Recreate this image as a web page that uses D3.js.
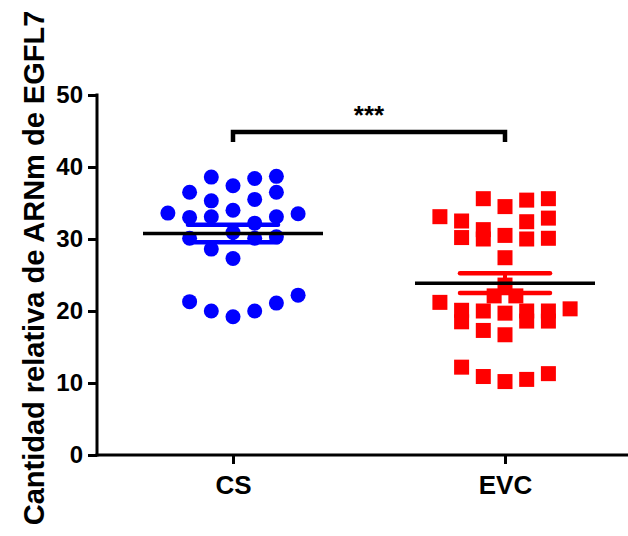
<!DOCTYPE html>
<html>
<head>
<meta charset="utf-8">
<script src="https://cdn.jsdelivr.net/npm/d3@7"></script>
<style>
  html, body { margin: 0; padding: 0; background: #fff; }
  svg text { font-family: "Liberation Sans", Arial, Helvetica, sans-serif; font-weight: bold; }
</style>
</head>
<body>
<div id="chart"></div>
<script>
// groups on the x axis
const groups = ["CS", "EVC"];

// CS values (blue circles) and their column slot in the scatter
const csValues = [38.6, 38.4, 38.7, 37.4, 36.5, 36.5, 35.3, 35.5, 34.0, 33.6, 33.0, 33.1, 33.1, 33.5,
                  32.2, 30.9, 30.1, 30.1, 30.3, 28.6, 27.3, 21.3, 20.0, 19.2, 20.0, 21.1, 22.2];
const csSlots  = [-1, 1, 2, 0, -2, 2, -1, 1, 0, -3, -2, -1, 2, 3,
                  1, 0, -2, 1, 2, -1, 0, -2, -1, 0, 1, 2, 3];

// EVC values (red squares) and their column slot
const evcValues = [35.6, 34.5, 35.4, 35.6, 33.1, 32.5, 31.3, 30.0, 30.2, 30.5, 32.4, 30.0, 32.9, 30.1,
                   27.4, 23.6, 22.1, 22.1, 21.2, 20.1, 18.5, 20.0, 17.3, 19.7, 16.7, 20.0, 18.6, 20.0,
                   18.6, 20.3, 12.2, 10.9, 10.2, 10.5, 11.3];
const evcSlots  = [-1, 0, 1, 2, -3, -2, -1, -1, -2, 0, 1, 1, 2, 2,
                   0, 0, -0.5, 0.5, -3, -2, -2, -1, -1, 0, 0, 1, 1, 2,
                   2, 3, -2, -1, 0, 1, 2];

const yTicks = [0, 10, 20, 30, 40, 50];
const yTitle = "Cantidad relativa de ARNm de EGFL7";
const sigLabel = "***";

const width = 628, height = 536;

const svg = d3.select("#chart").append("svg")
  .attr("width", width)
  .attr("height", height);

const x = d3.scalePoint().domain(groups).range([233, 505]);
const y = d3.scaleLinear().domain([0, 50]).range([455, 95]);
const slot = d3.scaleLinear().domain([-1, 1]).range([-21.7, 21.7]);

const series = [
  { group: "CS", values: csValues, slots: csSlots, color: "#0000ff", shape: "circle" },
  { group: "EVC", values: evcValues, slots: evcSlots, color: "#ff0000", shape: "square" }
];

// points
series.forEach(s => {
  const pts = s.values.map((v, i) => ({ v: v, s: s.slots[i] }));
  const g = svg.append("g");
  if (s.shape === "circle") {
    g.selectAll("circle").data(pts).enter().append("circle")
      .attr("cx", d => x(s.group) + slot(d.s))
      .attr("cy", d => y(d.v))
      .attr("r", 7.5)
      .attr("fill", s.color);
  } else {
    g.selectAll("rect").data(pts).enter().append("rect")
      .attr("x", d => x(s.group) + slot(d.s) - 7.5)
      .attr("y", d => y(d.v) - 7.5)
      .attr("width", 15)
      .attr("height", 15)
      .attr("fill", s.color);
  }
});

// mean +/- SEM
series.forEach(s => {
  const m = d3.mean(s.values);
  const sem = d3.deviation(s.values) / Math.sqrt(s.values.length);
  const cx = x(s.group);
  const g = svg.append("g");
  g.append("line")
    .attr("x1", cx).attr("x2", cx)
    .attr("y1", y(m + sem)).attr("y2", y(m - sem))
    .attr("stroke", s.color).attr("stroke-width", 4);
  [m + sem, m - sem].forEach(v => {
    g.append("line")
      .attr("x1", cx - 45).attr("x2", cx + 45)
      .attr("y1", y(v)).attr("y2", y(v))
      .attr("stroke", s.color).attr("stroke-width", 4.5)
      .attr("stroke-linecap", "round");
  });
  g.append("line")
    .attr("x1", cx - 90).attr("x2", cx + 90)
    .attr("y1", y(m)).attr("y2", y(m))
    .attr("stroke", "#000").attr("stroke-width", 3.5);
});

// y axis
const yAxis = svg.append("g")
  .attr("transform", "translate(97,0)")
  .call(d3.axisLeft(y).tickValues(yTicks).tickSize(9).tickPadding(5));
yAxis.select(".domain").remove();
yAxis.append("line")
  .attr("x1", 0).attr("x2", 0)
  .attr("y1", y(50) - 1.5).attr("y2", y(0) + 1.5)
  .attr("stroke", "#000").attr("stroke-width", 3);
yAxis.selectAll(".tick line").attr("stroke", "#000").attr("stroke-width", 3);
yAxis.selectAll(".tick text")
  .attr("fill", "#000")
  .style("font-size", "24px");

// x axis
const xAxis = svg.append("g")
  .attr("transform", "translate(0,455)")
  .call(d3.axisBottom(x).tickSize(9).tickPadding(11.5));
xAxis.select(".domain").remove();
xAxis.append("line")
  .attr("x1", 95.5).attr("x2", width)
  .attr("y1", 0).attr("y2", 0)
  .attr("stroke", "#000").attr("stroke-width", 3);
xAxis.selectAll(".tick line").attr("stroke", "#000").attr("stroke-width", 3);
xAxis.selectAll(".tick text")
  .attr("fill", "#000")
  .style("font-size", "26px");

// y title
svg.append("text")
  .attr("transform", "translate(44,268) rotate(-90)")
  .attr("text-anchor", "middle")
  .style("font-size", "29px")
  .text(yTitle);

// significance bracket
const by = 132;
svg.append("path")
  .attr("d", d3.line()([[x("CS"), by + 10], [x("CS"), by], [x("EVC"), by], [x("EVC"), by + 10]]))
  .attr("fill", "none")
  .attr("stroke", "#000")
  .attr("stroke-width", 4.5);
svg.append("text")
  .attr("x", (x("CS") + x("EVC")) / 2)
  .attr("y", 124)
  .attr("text-anchor", "middle")
  .style("font-size", "26px")
  .text(sigLabel);
</script>
</body>
</html>
